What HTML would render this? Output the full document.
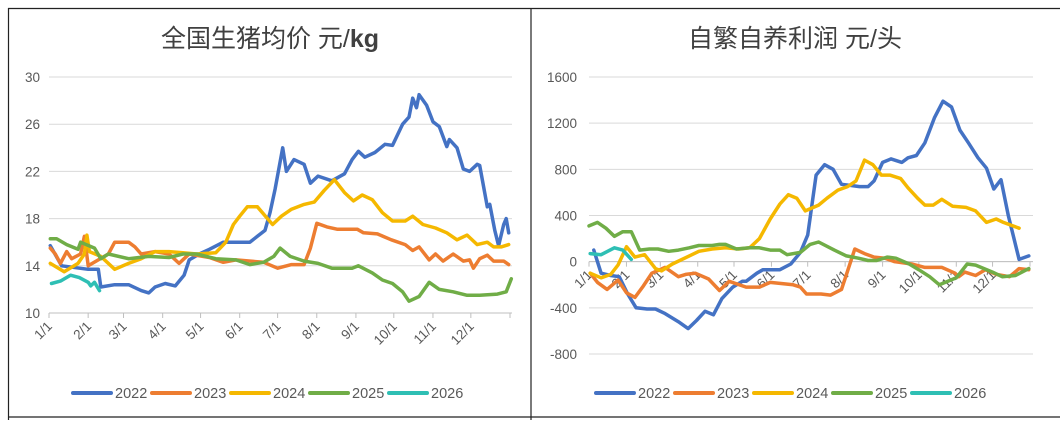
<!DOCTYPE html>
<html><head><meta charset="utf-8">
<style>
html,body{margin:0;padding:0;background:#fff;}
body{width:1060px;height:420px;overflow:hidden;font-family:"Liberation Sans","Noto Sans CJK SC",sans-serif;}
svg text{font-family:"Liberation Sans","Noto Sans CJK SC",sans-serif;}
</style></head>
<body>
<svg id="c" width="1060" height="420" xmlns="http://www.w3.org/2000/svg">
<line x1="8.5" y1="8" x2="8.5" y2="420" stroke="#222" stroke-width="1.2"/>
<line x1="8" y1="8.5" x2="1060" y2="8.5" stroke="#222" stroke-width="1.2"/>
<line x1="531" y1="8" x2="531" y2="420" stroke="#222" stroke-width="1.2"/>
<line x1="8" y1="417" x2="1060" y2="417" stroke="#222" stroke-width="1.2"/>
<text x="270" y="47" text-anchor="middle" font-size="25" fill="#404040">全国生猪均价 元/<tspan font-weight="bold">kg</tspan></text>
<text x="795" y="47" text-anchor="middle" font-size="25" fill="#404040">自繁自养利润 元/头</text>
<g id="left"></g><g id="right"></g><g id="legend"></g>
</svg>
<script>
const years=['2022','2023','2024','2025','2026'];
const colors=['#4472C4','#ED7D31','#F5B800','#70AD47','#2EBFB4'];
const monthLabels=['1/1','2/1','3/1','4/1','5/1','6/1','7/1','8/1','9/1','10/1','11/1','12/1'];
const monthDays=[0,31,59,90,120,151,181,212,243,273,304,334];
// left: pig price
const priceTicks=[10,14,18,22,26,30];
const p22d=[1,10,31,39,41,52,63,73,79,84,92,100,107,111,119,127,138,159,165,171,175,179,185,188,194,202,207,213,224,234,240,245,250,258,266,272,280,285,288,291,293,299,304,309,315,317,323,328,333,339,341,347,349,353,356,360,362,364];
const p22v=[15.7,14,13.7,13.7,12.2,12.4,12.4,11.9,11.7,12.2,12.5,12.3,13.2,14.5,15,15.4,16,16,16.5,17,18.5,20.5,24,22,23,22.6,21,21.6,21.2,21.8,23,23.7,23.2,23.6,24.3,24.2,26,26.6,28.2,27.4,28.5,27.6,26.2,25.8,24.1,24.7,24,22.2,22,22.6,22.5,19,19.2,17,15.7,17.5,18,16.8];
const p23d=[1,5,9,14,18,25,28,31,39,47,52,63,68,73,84,95,103,107,111,127,138,148,170,181,192,202,207,212,220,228,244,249,260,271,282,288,293,301,306,312,320,328,333,336,341,347,352,360,364];
const p23v=[15.5,15,14.2,15.2,14.6,15,16.5,14,14.5,15,16,16,15.6,15,15.2,15,14.2,14.6,15,14.7,14.3,14.5,14.3,13.8,14.1,14.1,15.5,17.6,17.3,17.1,17.1,16.8,16.7,16.2,15.8,15.3,15.6,14.5,15,14.4,15,14.4,14.5,13.8,14.6,14.9,14.4,14.4,14.1];
const p24d=[1,12,23,28,30,32,41,52,63,73,84,95,106,117,132,140,146,151,157,165,173,177,184,192,202,210,218,226,234,241,248,256,264,272,282,288,296,306,315,323,331,339,347,352,358,364];
const p24v=[14.2,13.5,14.2,15,16.6,15.2,14.8,13.7,14.2,14.6,15.2,15.2,15.1,15,15.1,16,17.5,18.2,19,19,18,17.5,18.2,18.8,19.2,19.4,20.4,21.3,20.2,19.5,20,19.6,18.5,17.8,17.8,18.2,17.5,17.2,16.8,16.2,16.6,15.8,16,15.6,15.6,15.8];
const p25d=[1,6,14,23,25,36,41,47,63,79,95,106,117,132,148,159,170,178,183,191,202,213,224,240,245,256,264,272,280,285,293,301,309,320,331,341,355,362,366];
const p25v=[16.3,16.3,15.8,15.4,16,15.5,14.6,15,14.6,14.8,14.7,15,15,14.6,14.5,14.1,14.3,14.8,15.5,14.8,14.4,14.2,13.8,13.8,14,13.4,12.8,12.5,11.8,11,11.4,12.6,12,11.8,11.5,11.5,11.6,11.8,12.9];
const p26d=[2,9,17,24,31,33,36,40];
const p26v=[12.5,12.7,13.2,13,12.6,12.3,12.6,11.9];
// right: profit
const profitTicks=[-800,-400,0,400,800,1200,1600];
const r22d=[4,10,18,25,32,39,48,55,63,74,82,89,96,103,110,119,127,130,139,144,158,167,175,181,188,195,202,209,217,224,231,236,243,250,259,264,271,278,286,293,300,307,314,322,329,335,341,347,356,364];
const r22v=[100,-100,-120,-130,-280,-400,-410,-410,-450,-520,-580,-510,-430,-460,-320,-220,-170,-170,-100,-70,-70,-20,80,230,750,840,800,670,660,650,650,700,860,890,860,900,920,1030,1250,1390,1340,1140,1030,900,810,630,710,400,20,50];
const r23d=[1,7,15,24,31,38,45,52,63,74,80,88,99,108,116,130,141,150,169,175,180,192,200,209,214,220,228,236,245,253,267,278,292,303,306,311,320,328,337,348,356,364];
const r23v=[-100,-180,-240,-160,-270,-310,-210,-100,-50,-130,-110,-100,-150,-250,-170,-220,-220,-180,-200,-220,-280,-280,-290,-240,-80,110,70,40,30,0,-20,-50,-50,-100,-130,-90,-120,-70,-110,-130,-60,-70];
const r24d=[1,10,18,24,31,38,46,55,60,69,83,91,102,113,124,133,141,150,158,165,172,179,190,197,206,214,221,228,235,242,249,258,264,272,278,285,292,301,312,320,329,337,343,356];
const r24v=[-100,-140,-110,-30,130,40,60,-60,-80,-20,50,90,110,120,110,120,200,370,500,580,550,440,490,550,620,650,700,880,840,750,750,720,640,550,490,490,540,480,470,440,340,370,340,290];
const r25d=[0,7,14,21,28,35,42,50,57,66,74,83,91,102,108,113,122,133,141,150,158,164,175,183,190,203,213,223,231,238,247,254,265,273,282,290,304,313,320,334,342,353,364];
const r25v=[310,340,290,220,260,260,100,110,110,90,100,120,140,140,150,150,110,120,120,100,100,60,80,150,170,100,50,30,10,10,40,30,-20,-70,-130,-200,-140,-20,-30,-90,-130,-120,-60];
const r26d=[1,10,21,28,35];
const r26v=[70,60,120,100,20];

const NS='http://www.w3.org/2000/svg';
function mk(tag,attrs,parent){const e=document.createElementNS(NS,tag);for(const k in attrs)e.setAttribute(k,attrs[k]);parent.appendChild(e);return e;}

function drawChart(g,cfg){
  const xs=d=>cfg.x0+(d/365)*(cfg.x1-cfg.x0);
  const ys=v=>cfg.yTop+(cfg.vMax-v)/(cfg.vMax-cfg.vMin)*(cfg.yBot-cfg.yTop);
  cfg.ticks.forEach(t=>{
    const l=mk('line',{x1:cfg.x0,x2:cfg.gx1,y1:ys(t),y2:ys(t),stroke:'#d9d9d9','stroke-width':1},g);
    
    
    const tx=mk('text',{x:cfg.labelX,y:ys(t)+5,'text-anchor':'end','font-size':13.5,fill:'#595959'},g);
    tx.textContent=t;
    
    
  });
  const ay=ys(cfg.axisV);
  const ax=mk('line',{x1:cfg.x0,x2:cfg.gx1,y1:ay,y2:ay,stroke:'#bfbfbf','stroke-width':1},g);
  
  
  monthDays.concat([365]).forEach((d,i)=>{
    const t=mk('line',{x1:xs(d),x2:xs(d),y1:ay,y2:ay+5,stroke:'#bfbfbf','stroke-width':1},g);
    
    
    if(i<12){
      const lx=xs(d)+4, ly=ay+14;
      const tx=mk('text',{x:lx,y:ly,'text-anchor':'end','font-size':13.5,fill:'#595959',transform:`rotate(-45 ${lx} ${ly})`},g);
      tx.textContent=monthLabels[i];
      
      
    }
  });
  cfg.series.forEach((s,i)=>{
    const pts=s[0].map((d,j)=>xs(d).toFixed(1)+','+ys(s[1][j]).toFixed(1)).join(' ');
    const pl=mk('polyline',{points:pts,fill:'none',stroke:colors[i],'stroke-width':3.5,'stroke-linejoin':'round','stroke-linecap':'round'},g);
    
    
  });
}
drawChart(document.getElementById('left'),{name:'price',x0:49,x1:510,gx1:512,yTop:77,yBot:313,vMin:10,vMax:30,ticks:priceTicks,axisV:10,labelX:40,
  series:[[p22d,p22v],[p23d,p23v],[p24d,p24v],[p25d,p25v],[p26d,p26v]]});
drawChart(document.getElementById('right'),{name:'profit',x0:589,x1:1030,gx1:1033,yTop:77,yBot:354,vMin:-800,vMax:1600,ticks:profitTicks,axisV:0,labelX:577,
  series:[[r22d,r22v],[r23d,r23v],[r24d,r24v],[r25d,r25v],[r26d,r26v]]});

const lg=document.getElementById('legend');
[[73,'left'],[596,'right']].forEach(([bx,side])=>{
  years.forEach((y,i)=>{
    const x=bx+i*79;
    const l=mk('line',{x1:x,x2:x+38,y1:393,y2:393,stroke:colors[i],'stroke-width':4,'stroke-linecap':'round'},lg);
    
    
    const t=mk('text',{x:x+42,y:398,'font-size':14.5,fill:'#595959'},lg);
    t.textContent=y;
    
    
  });
});
</script>
</body></html>
